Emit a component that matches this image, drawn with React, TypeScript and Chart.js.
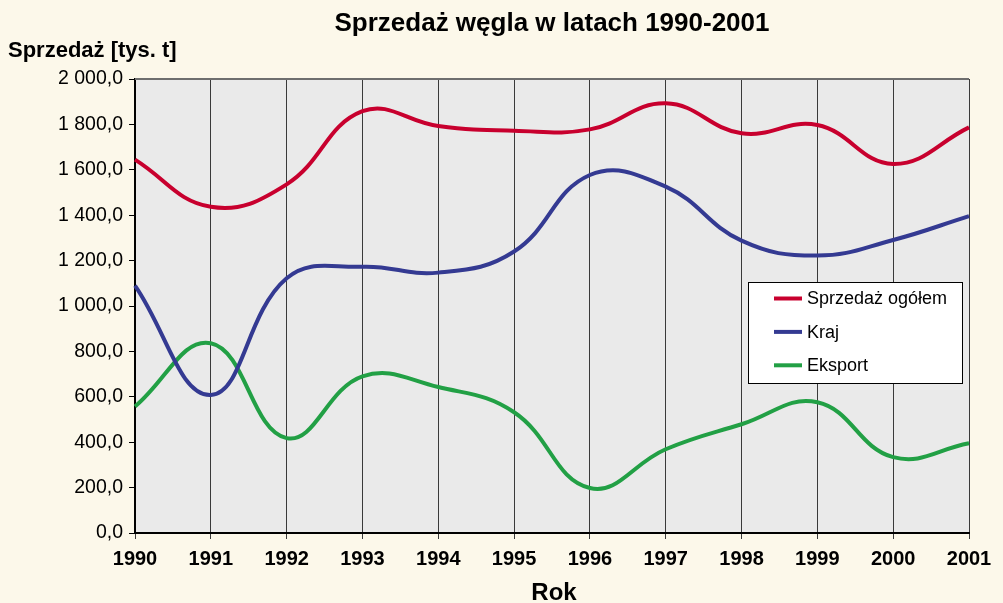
import React, { useEffect, useRef } from "react";
import { Chart, registerables } from "chart.js";

Chart.register(...registerables);

const years = ["1990", "1991", "1992", "1993", "1994", "1995", "1996", "1997", "1998", "1999", "2000", "2001"];
const ogolem = [1645, 1437, 1536, 1858, 1793, 1772, 1778, 1893, 1761, 1797, 1626, 1787];
const kraj = [1090, 608, 1122, 1173, 1147, 1240, 1577, 1526, 1288, 1222, 1291, 1396];
const eksport = [557, 836, 418, 690, 643, 532, 198, 369, 479, 576, 334, 395];

const TITLE = "Sprzedaż węgla w latach 1990-2001";
const Y_TITLE = "Sprzedaż [tys. t]";
const X_TITLE = "Rok";
const FONT = "'Liberation Sans', Arial, sans-serif";

function fmt(v: number): string {
  const s = v.toFixed(1).replace(".", ",");
  const [i, d] = s.split(",");
  const withSp = i.replace(/\B(?=(\d{3})+(?!\d))/g, " ");
  return withSp + "," + d;
}

const decor = {
  id: "decor",
  beforeDraw(chart: any) {
    const { ctx, chartArea } = chart;
    ctx.save();
    ctx.fillStyle = "#fcf8ea";
    ctx.fillRect(0, 0, chart.width, chart.height);
    ctx.fillStyle = "#eaeaea";
    ctx.fillRect(chartArea.left, chartArea.top, chartArea.right - chartArea.left, chartArea.bottom - chartArea.top);
    ctx.restore();
  },
  afterDraw(chart: any) {
    const { ctx, chartArea } = chart;
    ctx.save();
    ctx.strokeStyle = "#6e6e6e";
    ctx.lineWidth = 2;
    ctx.beginPath();
    ctx.moveTo(chartArea.left, chartArea.top);
    ctx.lineTo(chartArea.right, chartArea.top);
    ctx.stroke();
    ctx.fillStyle = "#000";
    ctx.textBaseline = "alphabetic";
    ctx.textAlign = "center";
    ctx.font = `bold 26px ${FONT}`;
    ctx.fillText(TITLE, 552, 31);
    ctx.textAlign = "left";
    ctx.font = `bold 22px ${FONT}`;
    ctx.fillText(Y_TITLE, 8, 57);
    ctx.textAlign = "center";
    ctx.font = `bold 24px ${FONT}`;
    ctx.fillText(X_TITLE, 554, 600);

    // legend
    const lx = chartArea.left + 613;
    const ly = chartArea.top + 203;
    const lw = 214;
    const lh = 101;
    ctx.fillStyle = "#ffffff";
    ctx.fillRect(lx, ly, lw, lh);
    ctx.strokeStyle = "#000";
    ctx.lineWidth = 1;
    ctx.strokeRect(lx + 0.5, ly + 0.5, lw, lh);
    ctx.font = `18px ${FONT}`;
    ctx.textAlign = "left";
    ctx.textBaseline = "middle";
    chart.data.datasets.forEach((ds: any, i: number) => {
      const y = ly + 16.5 + i * 33.4;
      ctx.strokeStyle = ds.borderColor;
      ctx.lineWidth = 4;
      ctx.beginPath();
      ctx.moveTo(lx + 26, y);
      ctx.lineTo(lx + 54, y);
      ctx.stroke();
      ctx.fillStyle = "#000";
      ctx.fillText(ds.label, lx + 59, y + 1);
    });
    ctx.restore();
  },
};

export default function App() {
  const ref = useRef<HTMLCanvasElement>(null);
  useEffect(() => {
    document.body.style.margin = "0";
    const chart = new Chart(ref.current!, {
      type: "line",
      data: {
        labels: years,
        datasets: [
          { label: "Sprzedaż ogółem", data: ogolem, borderColor: "#c8002e", borderWidth: 4, pointRadius: 0, tension: 0.42, fill: false },
          { label: "Kraj", data: kraj, borderColor: "#343a92", borderWidth: 4, pointRadius: 0, tension: 0.42, fill: false },
          { label: "Eksport", data: eksport, borderColor: "#22a045", borderWidth: 4, pointRadius: 0, tension: 0.42, fill: false },
        ],
      },
      options: {
        responsive: false,
        animation: false,
        devicePixelRatio: 1,
        layout: { padding: { top: 79, right: 34, bottom: 0, left: 0 } },
        plugins: { legend: { display: false }, tooltip: { enabled: false }, title: { display: false } },
        scales: {
          x: {
            offset: false,
            grid: { color: "#3a3a3a", lineWidth: 1, tickLength: 6, drawOnChartArea: true, drawTicks: true },
            border: { color: "#000", width: 2 },
            ticks: { color: "#000", font: { family: FONT, size: 20, weight: "bold" }, padding: 8, maxRotation: 0, autoSkip: false },
            afterFit(s: any) {
              s.height = 70;
              s.paddingLeft = 0;
              s.paddingRight = 0;
            },
          },
          y: {
            min: 0,
            max: 2000,
            grid: { color: "#000", drawOnChartArea: false, drawTicks: true, tickLength: 6 },
            border: { color: "#000", width: 2 },
            ticks: { stepSize: 200, color: "#000", font: { family: FONT, size: 19.5 }, padding: 6, callback: (v: any) => fmt(Number(v)) },
            afterFit(s: any) {
              s.width = 135;
              s.paddingTop = 0;
              s.paddingBottom = 0;
            },
          },
        },
      },
      plugins: [decor],
    });
    return () => chart.destroy();
  }, []);
  return <canvas ref={ref} width={1003} height={603} style={{ display: "block" }} />;
}
